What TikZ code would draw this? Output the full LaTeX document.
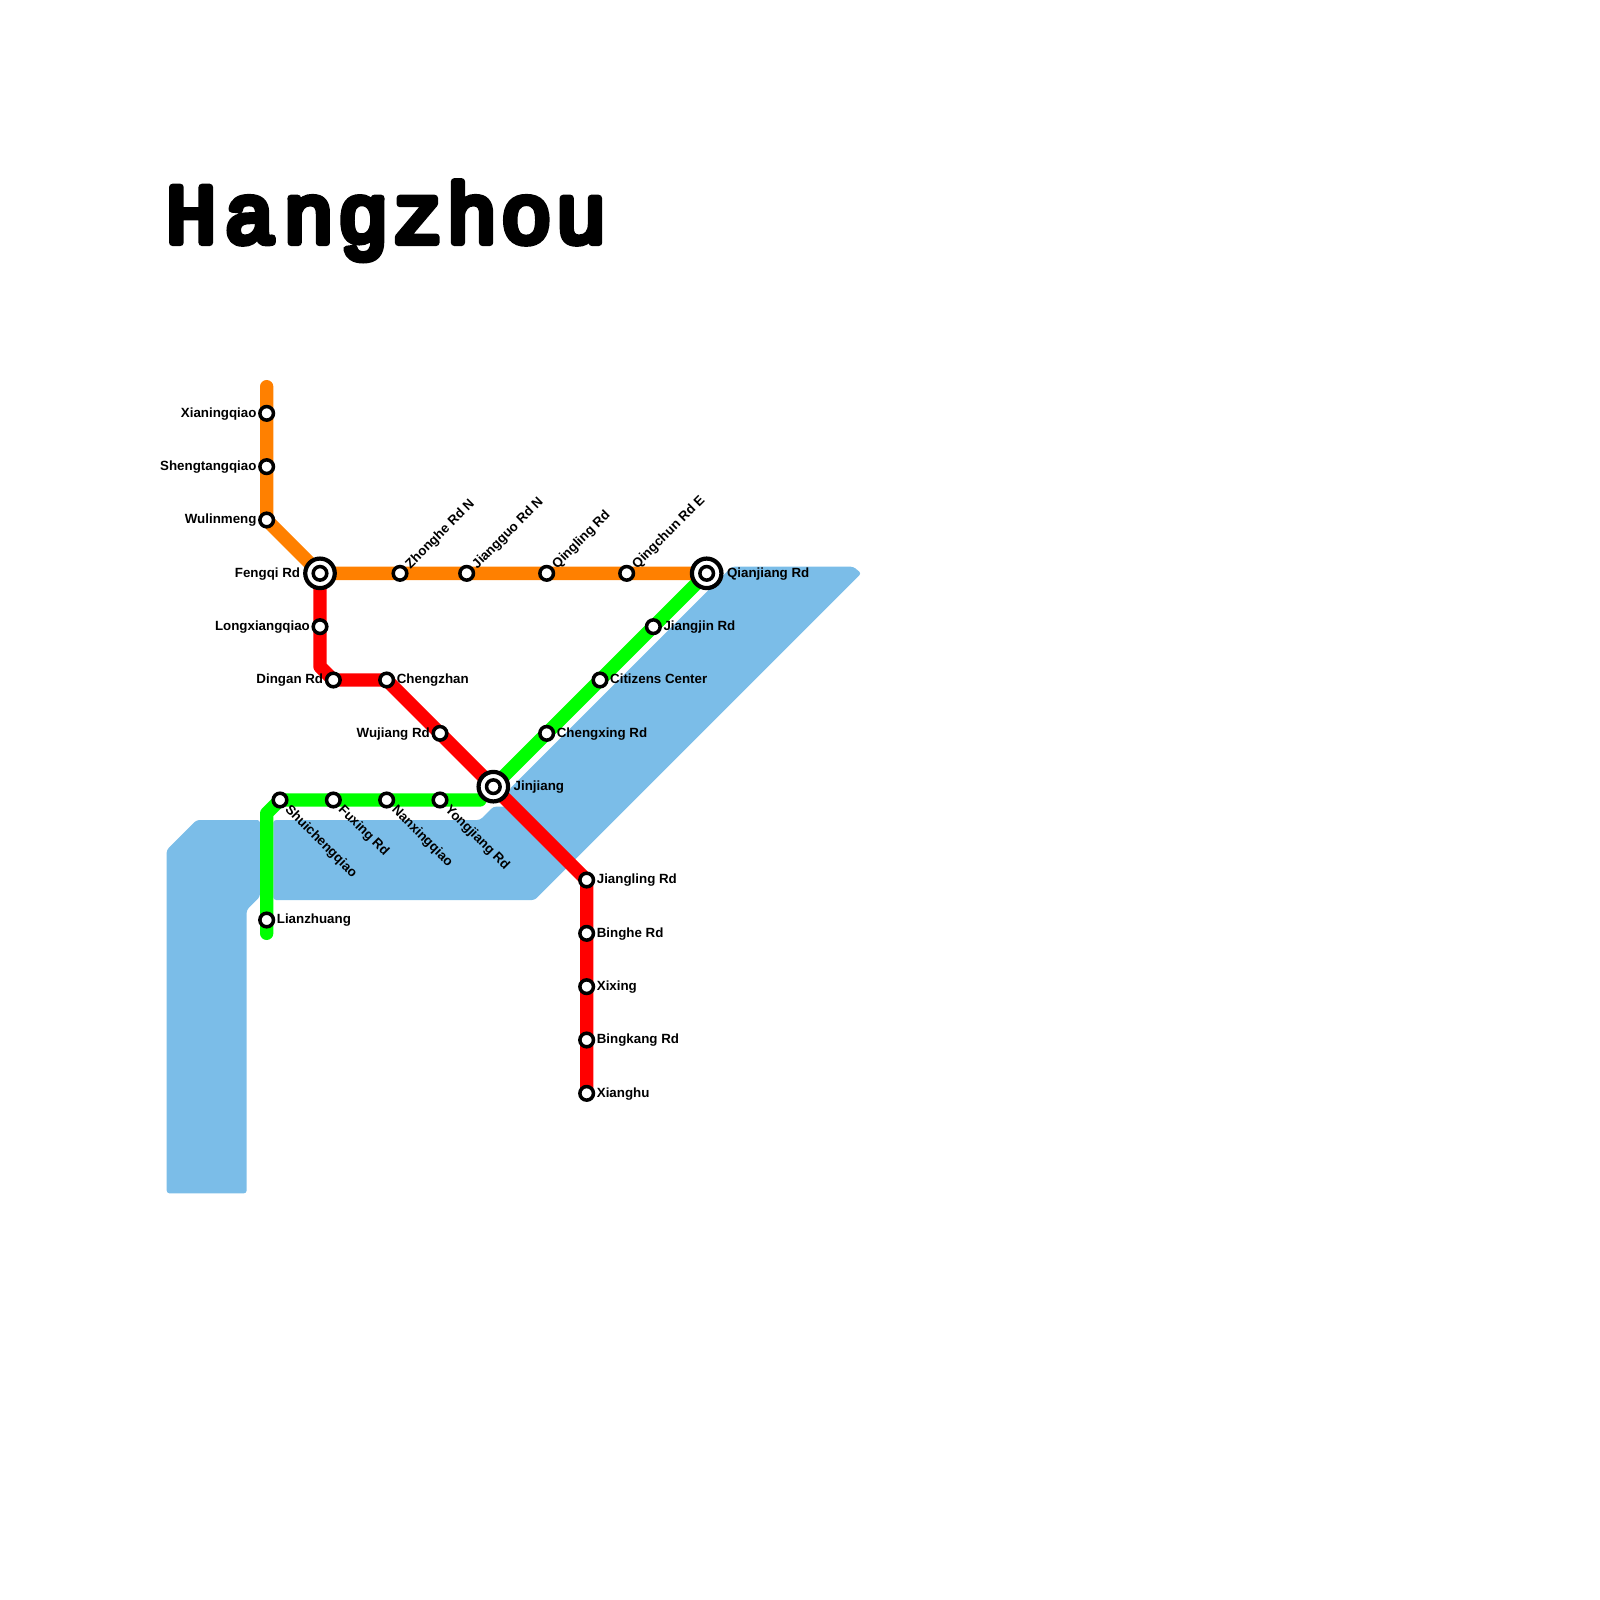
\documentclass[tikz,border=0pt]{standalone}
\usepackage{fontspec}
\usepackage{xcolor}
\setmainfont{Liberation Sans}
\newfontfamily\titlefont[FakeBold=8,LetterSpace=4.5]{Liberation Mono}
\usetikzlibrary{positioning, backgrounds}
\definecolor{water}{HTML}{7BBDE8}
\definecolor{lineorange}{HTML}{FF8000}
\definecolor{linered}{HTML}{FF0000}
\definecolor{linegreen}{HTML}{00FF00}

\begin{document}
\begin{tikzpicture}[
    x=0.2cm, y=-0.2cm,
    node distance=0.5pt,
    lake/.style={fill=water, rounded corners=1.2pt},
    metro/.style={line width=0.2cm, line cap=round, line join=round},
    stn/.style={circle, draw, fill=white, line width=1.5pt, minimum size=5.8pt, inner sep=0pt},
    hub/.style={stn, line width=1.8pt, minimum size=12.6pt},
    lbl/.style={font=\bfseries\fontsize{5.69pt}{6pt}\selectfont, inner sep=0pt, text height=0.72em, text depth=0.21em, yshift=0.85pt},
    lblup/.style={lbl, rotate=45, anchor=west},
    lbldown/.style={lbl, rotate=-45, anchor=west, xshift=1.3pt, yshift=0.2pt}
]
\useasboundingbox (0,0) rectangle (120,120);

\node[anchor=base west, inner sep=0pt, font=\titlefont\fontsize{36pt}{38pt}\selectfont] (title) at (12.4,18.2)
    {\pgfsetroundjoin H\kern3.5pt a\kern3.5pt ngzhou};

% stations, orange line
\node[stn] (xianing) at (20,31) {};
\node[stn] (shengtang) at (20,35) {};
\node[stn] (wulinmeng) at (20,39) {};
\node[hub] (fengqi) at (24,43) {};
\node[stn] (fengqi-dot) at (24,43) {};
\node[stn] (zhonghe) at (30,43) {};
\node[stn] (jiangguo) at (35,43) {};
\node[stn] (qingling) at (41,43) {};
\node[stn] (qingchun) at (47,43) {};
\node[hub] (qianjiang) at (53,43) {};
\node[stn] (qianjiang-dot) at (53,43) {};
\coordinate (orangetop) at (20,29);

% stations, red line
\node[stn] (longxiang) at (24,47) {};
\node[stn] (dingan) at (25,51) {};
\node[stn] (chengzhan) at (29,51) {};
\node[stn] (wujiang) at (33,55) {};
\node[hub] (jinjiang) at (37,59) {};
\node[stn] (jinjiang-dot) at (37,59) {};
\node[stn] (jiangling) at (44,66) {};
\node[stn] (binghe) at (44,70) {};
\node[stn] (xixing) at (44,74) {};
\node[stn] (bingkang) at (44,78) {};
\node[stn] (xianghu) at (44,82) {};
\coordinate (redbend) at (24,50);

% stations, green line
\node[stn] (lianzhuang) at (20,69) {};
\node[stn] (shuicheng) at (21,60) {};
\node[stn] (fuxing) at (25,60) {};
\node[stn] (nanxing) at (29,60) {};
\node[stn] (yongjiang) at (33,60) {};
\node[stn] (chengxing) at (41,55) {};
\node[stn] (citizens) at (45,51) {};
\node[stn] (jiangjin) at (49,47) {};
\coordinate (greenend) at (20,70);
\coordinate (greenbend) at (20,61);
\coordinate (greenstop) at (36,60);

\begin{pgfonlayer}{background}
% water
\fill[lake] (20.5,61.5) -- (36,61.5) -- (37,60.5) -- (38.2,60.5) -- (38.2,59.2) -- (54.9,42.5) -- (64,42.5)
    -- (64.6,43) -- (40.1,67.5) -- (20.5,67.5) -- cycle;
\fill[lake] (14.75,61.5) -- (19.5,61.5) -- (19.5,67.25) -- (18.5,68.25) -- (18.5,89.5) -- (12.5,89.5) -- (12.5,63.75) -- cycle;
% lines
\draw[metro, linegreen] (greenend) -- (greenbend) -- (shuicheng.center) -- (greenstop);
\draw[metro, linegreen] (jinjiang.center) -- (qianjiang.center);
\draw[metro, linered] (fengqi.center) -- (redbend) -- (dingan.center) -- (chengzhan.center) -- (jiangling.center) -- (xianghu.center);
\draw[metro, lineorange] (orangetop) -- (wulinmeng.center) -- (fengqi.center) -- (qianjiang.center);
\end{pgfonlayer}

% labels
\node[lbl, left=of xianing] (xianing-t) {Xianingqiao};
\node[lbl, left=of shengtang] (shengtang-t) {Shengtangqiao};
\node[lbl, left=of wulinmeng] (wulinmeng-t) {Wulinmeng};
\node[lbl, left=1.1pt of fengqi] (fengqi-t) {Fengqi Rd};
\node[lbl, left=of longxiang] (longxiang-t) {Longxiangqiao};
\node[lbl, left=of dingan] (dingan-t) {Dingan Rd};
\node[lbl, left=of wujiang] (wujiang-t) {Wujiang Rd};
\node[lbl, right=of chengzhan] (chengzhan-t) {Chengzhan};
\node[lbl, right=of lianzhuang] (lianzhuang-t) {Lianzhuang};
\node[lbl, right=of chengxing] (chengxing-t) {Chengxing Rd};
\node[lbl, right=of citizens] (citizens-t) {Citizens Center};
\node[lbl, right=of jiangjin] (jiangjin-t) {Jiangjin Rd};
\node[lbl, right=1.3pt of jinjiang] (jinjiang-t) {Jinjiang};
\node[lbl, right=1.3pt of qianjiang] (qianjiang-t) {Qianjiang Rd};
\node[lbl, right=of jiangling] (jiangling-t) {Jiangling Rd};
\node[lbl, right=of binghe] (binghe-t) {Binghe Rd};
\node[lbl, right=of xixing] (xixing-t) {Xixing};
\node[lbl, right=of bingkang] (bingkang-t) {Bingkang Rd};
\node[lbl, right=of xianghu] (xianghu-t) {Xianghu};
\node[lblup] (zhonghe-t) at (zhonghe.45) {Zhonghe Rd N};
\node[lblup] (jiangguo-t) at (jiangguo.45) {Jiangguo Rd N};
\node[lblup] (qingling-t) at (qingling.45) {Qingling Rd};
\node[lblup] (qingchun-t) at (qingchun.45) {Qingchun Rd E};
\node[lbldown] (shuicheng-t) at (shuicheng.-45) {Shuichengqiao};
\node[lbldown] (fuxing-t) at (fuxing.-45) {Fuxing Rd};
\node[lbldown] (nanxing-t) at (nanxing.-45) {Nanxingqiao};
\node[lbldown] (yongjiang-t) at (yongjiang.-45) {Yongjiang Rd};
\end{tikzpicture}
\end{document}
